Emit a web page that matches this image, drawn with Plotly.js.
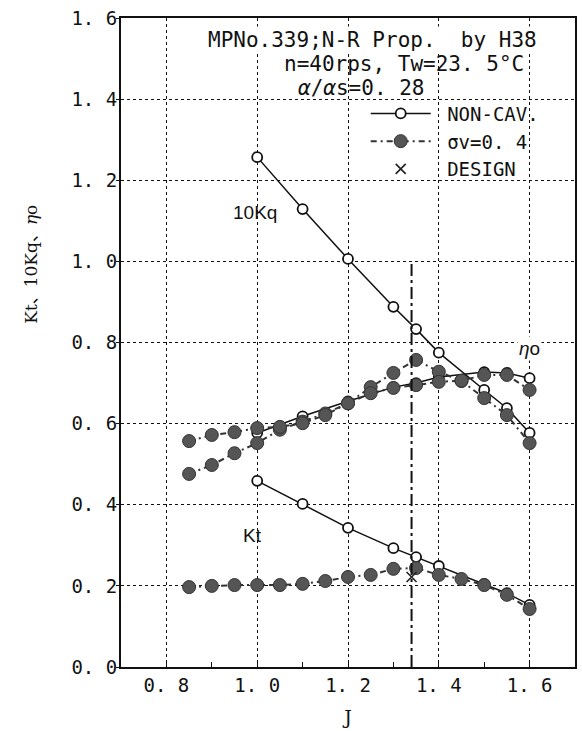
<!DOCTYPE html>
<html><head><meta charset="utf-8">
<script src="https://cdn.plot.ly/plotly-3.0.1.min.js"></script>
<style>html,body{margin:0;padding:0;background:#fff}#c{width:582px;height:731px}</style>
</head><body><div id="c"></div>
<script>
// Non-cavitating (open circles)
const jNC = [1.0, 1.1, 1.2, 1.3, 1.35, 1.4, 1.5, 1.55, 1.6];
const kqNC = [1.257, 1.129, 1.006, 0.888, 0.833, 0.775, 0.683, 0.638, 0.577];
const etaNC = [0.577, 0.618, 0.655, 0.690, 0.700, 0.715, 0.727, 0.725, 0.712];
const ktNC = [0.459, 0.402, 0.343, 0.293, 0.271, 0.249, 0.205, 0.182, 0.153];
// Cavitating sigma_v = 0.4 (filled circles)
const jCV = [0.85, 0.9, 0.95, 1.0, 1.05, 1.1, 1.15, 1.2, 1.25, 1.3, 1.35, 1.4, 1.45, 1.5, 1.55, 1.6];
const kqCV = [0.476, 0.498, 0.527, 0.552, 0.585, 0.605, 0.625, 0.650, 0.690, 0.725, 0.757, 0.728, 0.705, 0.663, 0.621, 0.552];
const etaCV = [0.557, 0.572, 0.579, 0.589, 0.592, 0.601, 0.621, 0.650, 0.675, 0.688, 0.695, 0.703, 0.706, 0.720, 0.720, 0.683];
const ktCV = [0.197, 0.200, 0.202, 0.202, 0.202, 0.205, 0.212, 0.222, 0.227, 0.242, 0.244, 0.227, 0.217, 0.202, 0.178, 0.143];
// Design point
const jDesign = [1.34];
const ktDesign = [0.222];
const designLineY = [0, 1.0];
const xTicks = [0.8, 1.0, 1.2, 1.4, 1.6];
const xTickText = ["0. 8", "1. 0", "1. 2", "1. 4", "1. 6"];
const yTicks = [0, 0.2, 0.4, 0.6, 0.8, 1.0, 1.2, 1.4, 1.6];
const yTickText = ["0. 0", "0. 2", "0. 4", "0. 6", "0. 8", "1. 0", "1. 2", "1. 4", "1. 6"];

const ncStyle = (name, show, y) => ({
  x: jNC, y: y, name: name, showlegend: show, legendgroup: 'nc', mode: 'lines+markers', type: 'scatter',
  line: {color: '#111', width: 1.5},
  marker: {symbol: 'circle', size: 10, color: '#fff', line: {color: '#111', width: 1.8}}
});
const cvStyle = (name, show, y) => ({
  x: jCV, y: y, name: name, showlegend: show, legendgroup: 'cv', mode: 'lines+markers', type: 'scatter',
  line: {color: '#333', width: 2, dash: '6px,4px,2px,4px'},
  marker: {symbol: 'circle', size: 13, color: '#555', line: {color: '#333', width: 1}}
});
const mono = 'DejaVu Sans Mono, Liberation Mono, monospace';
const traces = [
  ncStyle('\u00a0NON-CAV.', true, kqNC),
  ncStyle('NON-CAV.', false, etaNC),
  ncStyle('NON-CAV.', false, ktNC),
  cvStyle('\u00a0σv=0. 4', true, kqCV),
  cvStyle('σv=0. 4', false, etaCV),
  cvStyle('σv=0. 4', false, ktCV),
  {x: [jDesign[0], jDesign[0]], y: designLineY, mode: 'lines', showlegend: false, type: 'scatter',
   line: {color: '#111', width: 2, dash: '12px,4px,3px,4px'}},
  {x: jDesign, y: ktDesign, name: '\u00a0DESIGN', mode: 'markers', type: 'scatter',
   marker: {symbol: 'x-thin-open', size: 10, color: '#222', line: {color: '#222', width: 1.6}}}
];
const layout = {
  width: 582, height: 731,
  margin: {l: 121, r: 7, t: 18, b: 64},
  paper_bgcolor: '#fff', plot_bgcolor: '#fff',
  showlegend: true,
  legend: {x: 0.539, y: 0.882, xanchor: 'left', yanchor: 'top', bgcolor: 'rgba(0,0,0,0)',
    font: {family: mono, size: 19, color: '#111'}, itemwidth: 60, tracegroupgap: 0},
  xaxis: {range: [0.7, 1.7], tickvals: xTicks, ticktext: xTickText, showgrid: true,
    gridcolor: '#111', griddash: 'dot', gridwidth: 1, zeroline: false,
    showline: true, linecolor: '#111', linewidth: 2, mirror: true,
    ticks: 'inside', ticklen: 5, tickcolor: '#111',
    minor: {dtick: 0.1, tick0: 0.7, ticks: 'inside', ticklen: 5, tickcolor: '#111', showgrid: false},
    tickfont: {family: mono, size: 19, color: '#111'},
    title: {text: 'J', font: {family: 'DejaVu Serif, Liberation Serif, serif', size: 19, color: '#111'}, standoff: 16}},
  yaxis: {range: [0, 1.6], tickvals: yTicks, ticktext: yTickText, showgrid: true,
    gridcolor: '#111', griddash: 'dot', gridwidth: 1, zeroline: false,
    showline: true, linecolor: '#111', linewidth: 2, mirror: true,
    ticks: 'outside', ticklen: 3, tickcolor: '#111', ticklabelstandoff: -5,
    tickfont: {family: mono, size: 19, color: '#111'}},
  annotations: [
    {xref: 'paper', yref: 'paper', x: 0.555, y: 0.987, text: 'MPNo.339;N-R Prop.  by H38', showarrow: false,
     font: {family: mono, size: 21, color: '#111'}, bgcolor: '#fff'},
    {xref: 'paper', yref: 'paper', x: 0.623, y: 0.950, text: 'n=40rps, Tw=23. 5°C', showarrow: false,
     font: {family: mono, size: 21, color: '#111'}},
    {xref: 'paper', yref: 'paper', x: 0.529, y: 0.913, text: '<i>α</i>/<i>α</i>s=0. 28', showarrow: false,
     font: {family: mono, size: 21, color: '#111'}},
    {x: 0.995, y: 1.12, text: '10Kq', showarrow: false, font: {family: 'Liberation Sans, Arial, sans-serif', size: 19, color: '#111'}},
    {x: 0.99, y: 0.325, text: 'Kt', showarrow: false, font: {family: 'Liberation Sans, Arial, sans-serif', size: 19, color: '#111'}},
    {x: 1.6, y: 0.784, text: '<i>η</i>o', showarrow: false, font: {family: 'Liberation Sans, Arial, sans-serif', size: 19, color: '#111'}, bgcolor: '#fff'},
    {xref: 'paper', yref: 'paper', x: -0.2, y: 0.62, text: 'Kt、10Kq、<i>η</i>o', textangle: -90, showarrow: false,
     xanchor: 'center', yanchor: 'middle',
     font: {family: 'DejaVu Serif, Liberation Serif, Noto Sans CJK JP, serif', size: 17, color: '#111'}}
  ]
};
Plotly.newPlot('c', traces, layout, {displayModeBar: false, staticPlot: true});
</script></body></html>
